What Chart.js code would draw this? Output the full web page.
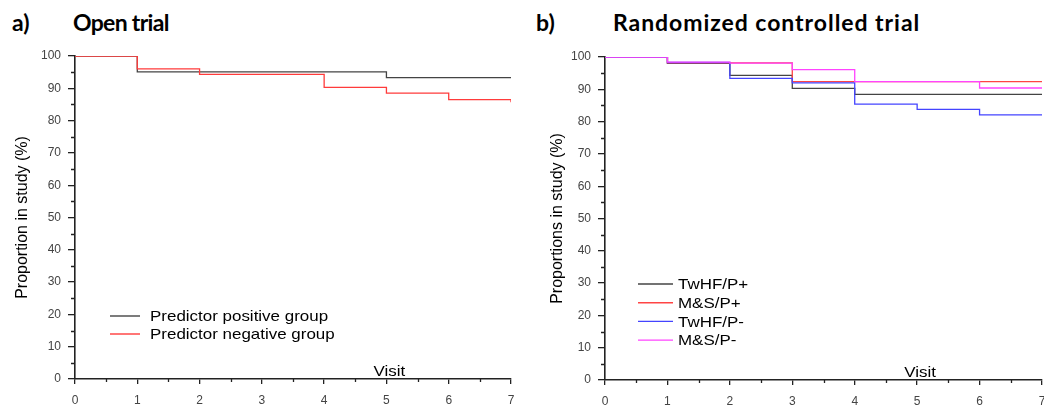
<!DOCTYPE html>
<html>
<head>
<meta charset="utf-8">
<script src="https://cdn.jsdelivr.net/npm/chart.js@4.4.1/dist/chart.umd.min.js"></script>
<style>
  html, body { margin: 0; padding: 0; background: #fff; overflow: hidden; }
  #wrap { position: relative; width: 1044px; height: 412px; overflow: hidden; }
  .cv { position: absolute; top: 0; }
  .ttl { position: absolute; font-family: Lato, "Open Sans", sans-serif; font-weight: 700; font-size: 23px; color: #000; white-space: nowrap; line-height: 1; }
</style>
</head>
<body>
<div id="wrap">
  <div class="ttl" style="left:12px; top:11px;">a)</div>
  <div class="ttl" style="left:73px; top:11px; letter-spacing:-0.7px;">Open trial</div>
  <div class="ttl" style="left:536px; top:11px;">b)</div>
  <div class="ttl" style="left:613px; top:11px; letter-spacing:0.95px;">Randomized controlled trial</div>
  <div class="cv" style="left:0; width:522px; height:412px;"><canvas id="ca"></canvas></div>
  <div class="cv" style="left:522px; width:522px; height:412px;"><canvas id="cb"></canvas></div>
</div>
<script>
// ---- data ----
const visits = [0, 1, 2, 3, 4, 5, 6, 7];
const yTicks = [0, 10, 20, 30, 40, 50, 60, 70, 80, 90, 100];

// Panel a: Open trial
const openLabels = ["Predictor positive group", "Predictor negative group"];
const openPositive = [100, 95.1, 95.1, 95.1, 95.1, 93.3, 93.3, 93.3];
const openNegative = [100, 96.0, 94.3, 94.3, 90.3, 88.5, 86.5, 85.7];

// Panel b: Randomized controlled trial
const rctLabels = ["TwHF/P+", "M&S/P+", "TwHF/P-", "M&S/P-"];
const twhfPpos = [100, 98.0, 94.3, 90.3, 88.4, 88.4, 88.4, 88.4];
const msPpos   = [100, 98.2, 98.2, 92.4, 92.4, 92.4, 92.4, 92.4];
const twhfPneg = [100, 98.3, 93.4, 92.0, 85.4, 83.8, 82.1, 82.1];
const msPneg   = [100, 98.4, 98.1, 96.1, 92.4, 92.4, 90.4, 90.4];

// ---- helpers ----
const TICK_FONT = { family: "'Liberation Sans', Arial, sans-serif", size: 12 };
const LABEL_FONT = "'Liberation Sans', Arial, sans-serif";
const STRETCH = 1.13;

function pts(vals) { return visits.map((v, i) => ({ x: v, y: vals[i] })); }

function ds(label, vals, color, order) {
  return {
    label, data: pts(vals), borderColor: color, backgroundColor: color,
    borderWidth: 1.3, pointRadius: 0, stepped: 'before', fill: false, order
  };
}

function stretchedText(ctx, text, x, y, align) {
  ctx.save();
  ctx.translate(x, y);
  ctx.scale(STRETCH, 1);
  ctx.textAlign = align;
  ctx.fillText(text, 0, 0);
  ctx.restore();
}

const minorTicks = {
  id: 'minorTicks',
  afterDraw(chart) {
    const ctx = chart.ctx, xs = chart.scales.x, ys = chart.scales.y;
    ctx.save();
    ctx.strokeStyle = '#222';
    ctx.lineWidth = 1.3;
    ctx.beginPath();
    for (let v = 5; v < 100; v += 10) {
      const py = Math.round(ys.getPixelForValue(v)) + 0.5;
      ctx.moveTo(xs.left - 4, py); ctx.lineTo(xs.left, py);
    }
    for (let v = 0.5; v < 7; v += 1) {
      const px = Math.round(xs.getPixelForValue(v)) + 0.5;
      ctx.moveTo(px, ys.bottom); ctx.lineTo(px, ys.bottom + 3);
    }
    ctx.stroke();
    ctx.restore();
  }
};

const legendAndVisit = {
  id: 'legendAndVisit',
  afterDraw(chart, args, opts) {
    const ctx = chart.ctx, xs = chart.scales.x, ys = chart.scales.y;
    ctx.save();
    ctx.font = "15px " + LABEL_FONT;
    ctx.fillStyle = '#000';
    ctx.textBaseline = 'middle';
    stretchedText(ctx, 'Visit', xs.getPixelForValue(5) + opts.visitDx, ys.bottom - 7, 'center');
    chart.data.datasets.forEach((d, i) => {
      const y = opts.legY + i * opts.legGap;
      ctx.strokeStyle = d.borderColor;
      ctx.lineWidth = 1.4;
      ctx.beginPath();
      ctx.moveTo(opts.legX, y); ctx.lineTo(opts.legX + opts.legLen, y);
      ctx.stroke();
      stretchedText(ctx, d.label, opts.legX + opts.legLen + opts.legGapText, y + 1, 'left');
    });
    ctx.restore();
  }
};

function makeOptions(yTitle, yWidth, padRight, xHeight, top, titlePad, legOpts) {
  return {
    responsive: true, maintainAspectRatio: false, animation: false,
    layout: { padding: { left: 0, right: padRight, top: top, bottom: 0 } },
    plugins: { legend: { display: false }, tooltip: { enabled: false }, legendAndVisit: legOpts },
    scales: {
      x: {
        type: 'linear', min: 0, max: 7,
        afterFit(s) { s.height = xHeight; s.paddingRight = 0; s.paddingLeft = 0; },
        ticks: { stepSize: 1, color: '#444', font: TICK_FONT, padding: 9, maxRotation: 0 },
        grid: { display: true, drawOnChartArea: false, drawTicks: true, tickLength: 5, color: '#222', lineWidth: 1.3 },
        border: { display: true, color: '#222', width: 1.6 }
      },
      y: {
        type: 'linear', min: 0, max: 100,
        afterFit(s) { s.width = yWidth; s.paddingTop = 0; s.paddingBottom = 0; },
        afterBuildTicks(s) { s.ticks = yTicks.map(v => ({ value: v })); },
        ticks: { color: '#444', font: TICK_FONT, padding: 7 },
        grid: { display: true, drawOnChartArea: false, drawTicks: true, tickLength: 7, color: '#222', lineWidth: 1.3 },
        border: { display: true, color: '#222', width: 1.6 },
        title: { display: true, text: yTitle, color: '#000', font: { family: LABEL_FONT, size: 16 }, padding: { top: titlePad, bottom: 0 } }
      }
    }
  };
}

new Chart(document.getElementById('ca'), {
  type: 'line',
  data: {
    datasets: [
      ds(openLabels[0], openPositive, '#444444', 1),
      ds(openLabels[1], openNegative, '#ff3b3b', 0)
    ]
  },
  options: makeOptions('Proportion in study (%)', 75, 11, 33, 56, 12.5,
    { legX: 110, legY: 316, legGap: 18, legLen: 30, legGapText: 10, visitDx: 3 }),
  plugins: [minorTicks, legendAndVisit]
});

new Chart(document.getElementById('cb'), {
  type: 'line',
  data: {
    datasets: [
      ds(rctLabels[0], twhfPpos, '#444444', 3),
      ds(rctLabels[1], msPpos, '#ff4444', 2),
      ds(rctLabels[2], twhfPneg, '#4444ff', 1),
      ds(rctLabels[3], msPneg, '#ff44ff', 0)
    ]
  },
  options: makeOptions('Proportions in study (%)', 83, 2, 32, 57, 25.5,
    { legX: 116, legY: 284, legGap: 18.7, legLen: 35, legGapText: 5, visitDx: 3 }),
  plugins: [minorTicks, legendAndVisit]
});
</script>
</body>
</html>
